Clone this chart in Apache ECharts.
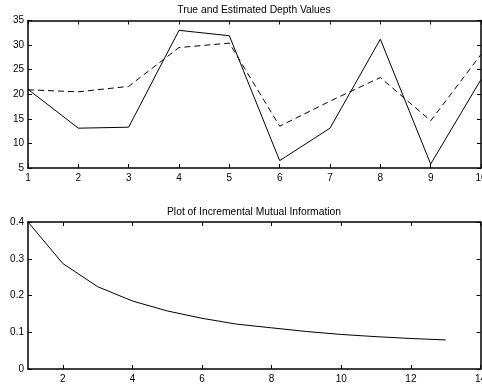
<!DOCTYPE html>
<html>
<head>
<meta charset="utf-8">
<script src="https://cdn.jsdelivr.net/npm/echarts@6/dist/echarts.min.js"></script>
<style>
  html, body { margin: 0; padding: 0; background: #fff; }
  #chart { width: 482px; height: 385px; }
</style>
</head>
<body>
<div id="chart"></div>
<script>
// Upper panel: true vs. estimated depth at each sample index
const depthIndex = [1, 2, 3, 4, 5, 6, 7, 8, 9, 10];
const trueDepth = [21.0, 13.1, 13.3, 33.0, 31.9, 6.5, 13.1, 31.2, 5.8, 23.0];
const estimatedDepth = [20.9, 20.5, 21.6, 29.5, 30.4, 13.5, 18.6, 23.4, 14.6, 28.1];

// Lower panel: incremental mutual information per step
const miStep = [1, 2, 3, 4, 5, 6, 7, 8, 9, 10, 11, 12, 13];
const miValue = [0.400, 0.287, 0.224, 0.185, 0.158, 0.138, 0.122, 0.112, 0.102, 0.094, 0.088, 0.083, 0.079];
const miTicks = [2, 4, 6, 8, 10, 12, 14];

const titles = ['True and Estimated Depth Values', 'Plot of Incremental Mutual Information'];

const FONT = 'Liberation Sans, Arial, Helvetica, sans-serif';
const BOX = { show: true, onZero: false, lineStyle: { color: '#000', width: 1.5 } };
const TICK = { show: true, inside: true, length: 4, lineStyle: { color: '#000', width: 1 } };
const LABEL = { color: '#000', fontFamily: FONT, fontSize: 10 };
const TITLE_STYLE = { fontFamily: FONT, fontSize: 10.3, fontWeight: 'normal', color: '#000' };

function pairs(xs, ys) { return xs.map((x, i) => [x, ys[i]]); }

const chart = echarts.init(document.getElementById('chart'), null, { renderer: 'canvas' });

chart.setOption({
  animation: false,
  backgroundColor: '#fff',
  title: [
    { text: titles[0], left: 254, top: 5, padding: 0, textAlign: 'center', textStyle: TITLE_STYLE },
    { text: titles[1], left: 254, top: 207, padding: 0, textAlign: 'center', textStyle: TITLE_STYLE }
  ],
  grid: [
    { left: 28, right: 1, top: 20.5, height: 147.5, containLabel: false, outerBoundsMode: 'none' },
    { left: 28, right: 1.5, top: 222, height: 147, containLabel: false, outerBoundsMode: 'none' }
  ],
  xAxis: [
    { gridIndex: 0, type: 'value', min: 1, max: 10, interval: 1, position: 'bottom',
      axisLine: BOX, axisTick: TICK, splitLine: { show: false },
      axisLabel: Object.assign({ margin: 5, hideOverlap: false }, LABEL) },
    { gridIndex: 0, type: 'value', min: 1, max: 10, interval: 1, position: 'top',
      axisLine: BOX, axisTick: TICK, splitLine: { show: false }, axisLabel: { show: false } },
    { gridIndex: 1, type: 'value', min: 1, max: 14, position: 'bottom',
      axisLine: BOX,
      axisTick: Object.assign({ customValues: miTicks }, TICK),
      splitLine: { show: false },
      axisLabel: Object.assign({ margin: 5, customValues: miTicks }, LABEL) },
    { gridIndex: 1, type: 'value', min: 1, max: 14, position: 'top',
      axisLine: BOX,
      axisTick: Object.assign({ customValues: miTicks }, TICK),
      splitLine: { show: false }, axisLabel: { show: false } }
  ],
  yAxis: [
    { gridIndex: 0, type: 'value', min: 5, max: 35, interval: 5, position: 'left',
      axisLine: BOX, axisTick: TICK, splitLine: { show: false },
      axisLabel: Object.assign({ margin: 4 }, LABEL) },
    { gridIndex: 0, type: 'value', min: 5, max: 35, interval: 5, position: 'right',
      axisLine: BOX, axisTick: TICK, splitLine: { show: false }, axisLabel: { show: false } },
    { gridIndex: 1, type: 'value', min: 0, max: 0.4, interval: 0.1, position: 'left',
      axisLine: BOX, axisTick: TICK, splitLine: { show: false },
      axisLabel: Object.assign({ margin: 4 }, LABEL) },
    { gridIndex: 1, type: 'value', min: 0, max: 0.4, interval: 0.1, position: 'right',
      axisLine: BOX, axisTick: TICK, splitLine: { show: false }, axisLabel: { show: false } }
  ],
  series: [
    { name: 'True depth', type: 'line', xAxisIndex: 0, yAxisIndex: 0,
      data: pairs(depthIndex, trueDepth), showSymbol: false, symbol: 'none',
      lineStyle: { color: '#000', width: 1 }, z: 1 },
    { name: 'Estimated depth', type: 'line', xAxisIndex: 0, yAxisIndex: 0,
      data: pairs(depthIndex, estimatedDepth), showSymbol: false, symbol: 'none',
      lineStyle: { color: '#000', width: 1, type: [6, 4] }, z: 1 },
    { name: 'Incremental MI', type: 'line', xAxisIndex: 2, yAxisIndex: 2,
      data: pairs(miStep, miValue), showSymbol: false, symbol: 'none',
      lineStyle: { color: '#000', width: 1 }, z: 1 }
  ]
});
</script>
</body>
</html>
